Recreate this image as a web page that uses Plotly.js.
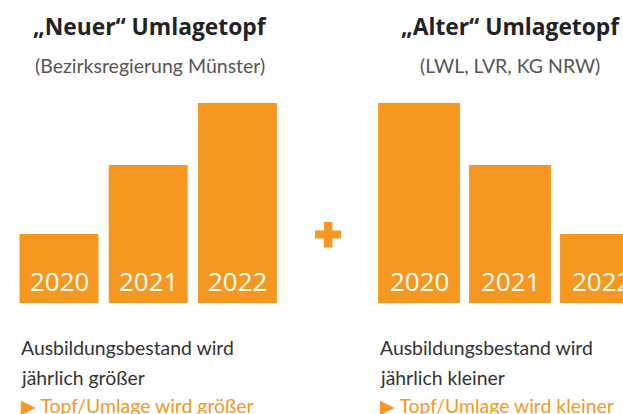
<!DOCTYPE html>
<html><head><meta charset="utf-8">
<script src="https://cdn.plot.ly/plotly-3.0.1.min.js"></script>
<style>html,body{margin:0;padding:0;background:#fff}</style>
</head><body><div id="chart" style="width:623px;height:414px"></div>
<script>
const years = ['2020', '2021', '2022'];
const neuerValues = [1.0, 2.0, 2.9];
const alterValues = [2.9, 2.0, 1.0];
const titles = ['„Neuer“ Umlagetopf', '„Alter“ Umlagetopf'];
const subtitles = ['(Bezirksregierung Münster)', '(LWL, LVR, KG NRW)'];
const notesLine1 = ['Ausbildungsbestand wird', 'Ausbildungsbestand wird'];
const notesLine2 = ['jährlich größer', 'jährlich kleiner'];
const notesLine3 = ['▶ Topf/Umlage wird größer', '▶ Topf/Umlage wird kleiner'];

const W = 623, H = 414;
const ORANGE = '#F6981F';
const px = v => v / W;
const py = v => 1 - v / H;

const traces = [
  {type: 'bar', x: years, y: neuerValues, xaxis: 'x', yaxis: 'y', width: 0.885,
   marker: {color: ORANGE}, hoverinfo: 'skip'},
  {type: 'bar', x: years, y: alterValues, xaxis: 'x2', yaxis: 'y', width: 0.9,
   marker: {color: ORANGE}, hoverinfo: 'skip'}
];

const annotations = [];
const groupCenters = [150, 510];
const noteLeft = [19, 378];
for (let i = 0; i < 2; i++) {
  annotations.push({xref: 'paper', yref: 'paper', x: px(groupCenters[i]), y: py(27), xanchor: 'center', yanchor: 'middle',
    text: '<b>' + titles[i] + '</b>', showarrow: false, font: {family: 'Open Sans', size: 22.8, color: '#222'}});
  annotations.push({xref: 'paper', yref: 'paper', x: px(groupCenters[i]), y: py(65), xanchor: 'center', yanchor: 'middle',
    text: subtitles[i], showarrow: false, font: {family: 'Lato', size: 19.5, color: '#555'}});
  annotations.push({xref: 'paper', yref: 'paper', x: px(noteLeft[i]), y: py(347), xanchor: 'left', yanchor: 'middle',
    text: notesLine1[i], showarrow: false, font: {family: 'Lato', size: 19.4, color: '#333'}});
  annotations.push({xref: 'paper', yref: 'paper', x: px(noteLeft[i]), y: py(377), xanchor: 'left', yanchor: 'middle',
    text: notesLine2[i], showarrow: false, font: {family: 'Lato', size: 19.4, color: '#333'}});
  annotations.push({xref: 'paper', yref: 'paper', x: px(noteLeft[i]), y: py(405), xanchor: 'left', yanchor: 'middle',
    text: notesLine3[i], showarrow: false, font: {family: 'Lato', size: 19.4, color: ORANGE}});
}
const axesRefs = ['x', 'x2'];
for (let a = 0; a < 2; a++) {
  years.forEach((yr, idx) => {
    annotations.push({xref: axesRefs[a], yref: 'y', x: idx, y: 0, xanchor: 'center', yanchor: 'bottom', yshift: 2,
      text: yr, showarrow: false, font: {family: 'Open Sans', size: 26, color: '#fff'}});
  });
}

const shapes = [
  {type: 'rect', xref: 'paper', yref: 'paper', x0: px(315), x1: px(341), y0: py(238.5), y1: py(230.5), line: {width: 0}, fillcolor: ORANGE},
  {type: 'rect', xref: 'paper', yref: 'paper', x0: px(324), x1: px(332.5), y0: py(247.5), y1: py(222), line: {width: 0}, fillcolor: ORANGE}
];

const layout = {
  width: W, height: H,
  margin: {l: 0, r: 0, t: 0, b: 0},
  paper_bgcolor: '#fff', plot_bgcolor: 'rgba(0,0,0,0)',
  showlegend: false,
  xaxis: {domain: [px(14.4), px(282)], range: [-0.5, 2.5], type: 'category', visible: false, fixedrange: true},
  xaxis2: {domain: [px(373.5), 1], range: [-0.5, -0.5 + 249.5 / 91], type: 'category', visible: false, fixedrange: true, anchor: 'y'},
  yaxis: {domain: [111 / H, 1], range: [0, 303 / 69], visible: false, fixedrange: true},
  annotations: annotations,
  shapes: shapes
};

Plotly.newPlot('chart', traces, layout, {displayModeBar: false, staticPlot: true});
</script>
</body></html>
